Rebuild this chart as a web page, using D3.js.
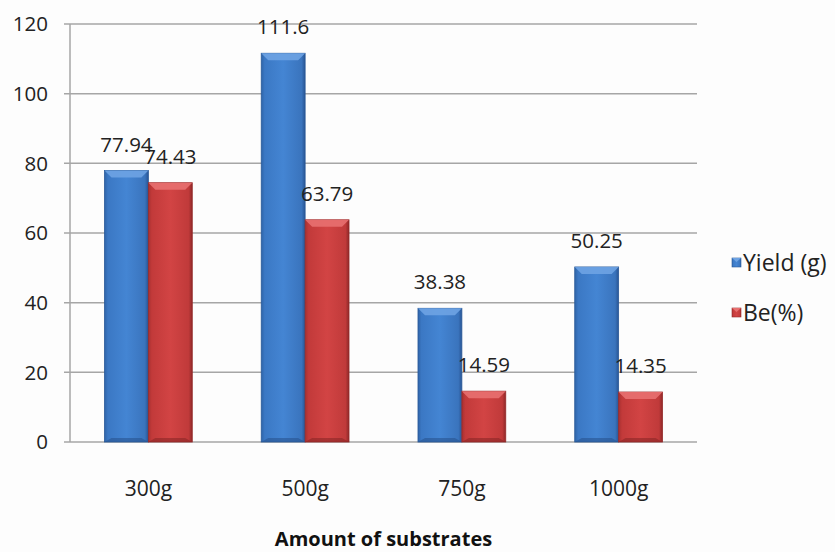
<!DOCTYPE html>
<html><head><meta charset="utf-8">
<script src="https://cdn.jsdelivr.net/npm/d3@7"></script>
<style>html,body{margin:0;padding:0;background:#fdfdfd;}svg{display:block;font-family:"Open Sans",Lato,sans-serif;}</style>
</head><body>
<svg id="c" width="835" height="552"></svg>
<script>
const categories = ["300g","500g","750g","1000g"];
const seriesNames = ["Yield (g)","Be(%)"];
const yieldValues = [77.94,111.6,38.38,50.25];
const beValues = [74.43,63.79,14.59,14.35];
const labelsYield = ["77.94","111.6","38.38","50.25"];
const labelsBe = ["74.43","63.79","14.59","14.35"];
const yTicks = [0,20,40,60,80,100,120];
const xTitle = "Amount of substrates";

(function(){
const svg = d3.select("#c");
const pL = 70, pR = 697, pT = 24, pB = 442;
const x = d3.scaleBand().domain(categories).range([pL,pR]).paddingInner(0.44).paddingOuter(0.22);
const xs = d3.scaleBand().domain(seriesNames).range([0,x.bandwidth()]);
const y = d3.scaleLinear().domain([0,120]).range([pB,pT]);

const defs = svg.append("defs");
function grad(id, stops){
  const g = defs.append("linearGradient").attr("id",id).attr("x1","0").attr("x2","1").attr("y1","0").attr("y2","0");
  stops.forEach(s=>g.append("stop").attr("offset",s[0]).attr("stop-color",s[1]));
}
grad("gb",[[0,"#2f64a8"],[0.08,"#3b78c4"],[0.5,"#4485d3"],[0.92,"#3a74bd"],[1,"#295594"]]);
grad("gr",[[0,"#a83030"],[0.08,"#c23a3a"],[0.5,"#d24444"],[0.92,"#c03a3a"],[1,"#8e2828"]]);
const cols = {"Yield (g)":{g:"url(#gb)",top:"#6ea3e3",bot:"#28548f",edge:"#2a5a99"},
              "Be(%)":{g:"url(#gr)",top:"#e87070",bot:"#8a2626",edge:"#962b2b"}};

svg.append("g").selectAll("line").data(yTicks).join("line")
  .attr("x1",pL-6).attr("x2",pR).attr("y1",d=>y(d)).attr("y2",d=>y(d))
  .attr("stroke","#a6a6a6").attr("stroke-width",1.5);
svg.append("line").attr("x1",pL).attr("x2",pL).attr("y1",pT).attr("y2",pB)
  .attr("stroke","#a6a6a6").attr("stroke-width",1.5);

svg.append("g").selectAll("text").data(yTicks).join("text")
  .attr("x",48).attr("y",d=>y(d)).attr("dy","0.36em").attr("text-anchor","end")
  .attr("font-size",20.5).attr("fill","#222").text(d=>d);

const rows = [];
categories.forEach((c,i)=>{
  rows.push({c,s:seriesNames[0],v:yieldValues[i],l:labelsYield[i]});
  rows.push({c,s:seriesNames[1],v:beValues[i],l:labelsBe[i]});
});
const bw = xs.bandwidth();
const bars = svg.append("g").selectAll("g").data(rows).join("g")
  .attr("transform",d=>`translate(${x(d.c)+xs(d.s)},0)`);
bars.append("rect").attr("x",0).attr("width",bw).attr("y",d=>y(d.v)).attr("height",d=>pB-y(d.v))
  .attr("fill",d=>cols[d.s].g).attr("stroke",d=>cols[d.s].edge).attr("stroke-width",0.8);
const bev = 7;
bars.append("path").attr("d",d=>{const t=y(d.v);return `M0,${t}L${bw},${t}L${bw-bev},${t+bev}L${bev},${t+bev}Z`;})
  .attr("fill",d=>cols[d.s].top).attr("opacity",0.9);
bars.append("path").attr("d",d=>`M0,${pB}L${bw},${pB}L${bw-bev},${pB-4}L${bev},${pB-4}Z`)
  .attr("fill",d=>cols[d.s].bot).attr("opacity",0.6);
bars.append("text").attr("x",bw/2).attr("y",d=>y(d.v)-19).attr("text-anchor","middle")
  .attr("font-size",20.5).attr("fill","#222").text(d=>d.l);

svg.append("g").selectAll("text").data(categories).join("text")
  .attr("x",d=>x(d)+x.bandwidth()/2).attr("y",496).attr("text-anchor","middle")
  .attr("font-size",21).attr("fill","#222").text(d=>d);
svg.append("text").attr("x",(pL+pR)/2).attr("y",546).attr("text-anchor","middle")
  .attr("font-size",20).attr("font-weight","bold").attr("fill","#111").text(xTitle);

const lg = svg.append("g").selectAll("g").data(seriesNames).join("g")
  .attr("transform",(d,i)=>`translate(732,${258+i*50})`);
lg.append("rect").attr("width",9).attr("height",9).attr("fill",d=>cols[d].g).attr("stroke",d=>cols[d].edge).attr("stroke-width",0.6);
lg.append("path").attr("d","M0,0L9,0L4.5,4Z").attr("fill",d=>cols[d].top);
lg.append("text").attr("x",11).attr("y",5).attr("dy","0.36em").attr("font-size",23).attr("fill","#222").text(d=>d);
})();
</script>
</body></html>
